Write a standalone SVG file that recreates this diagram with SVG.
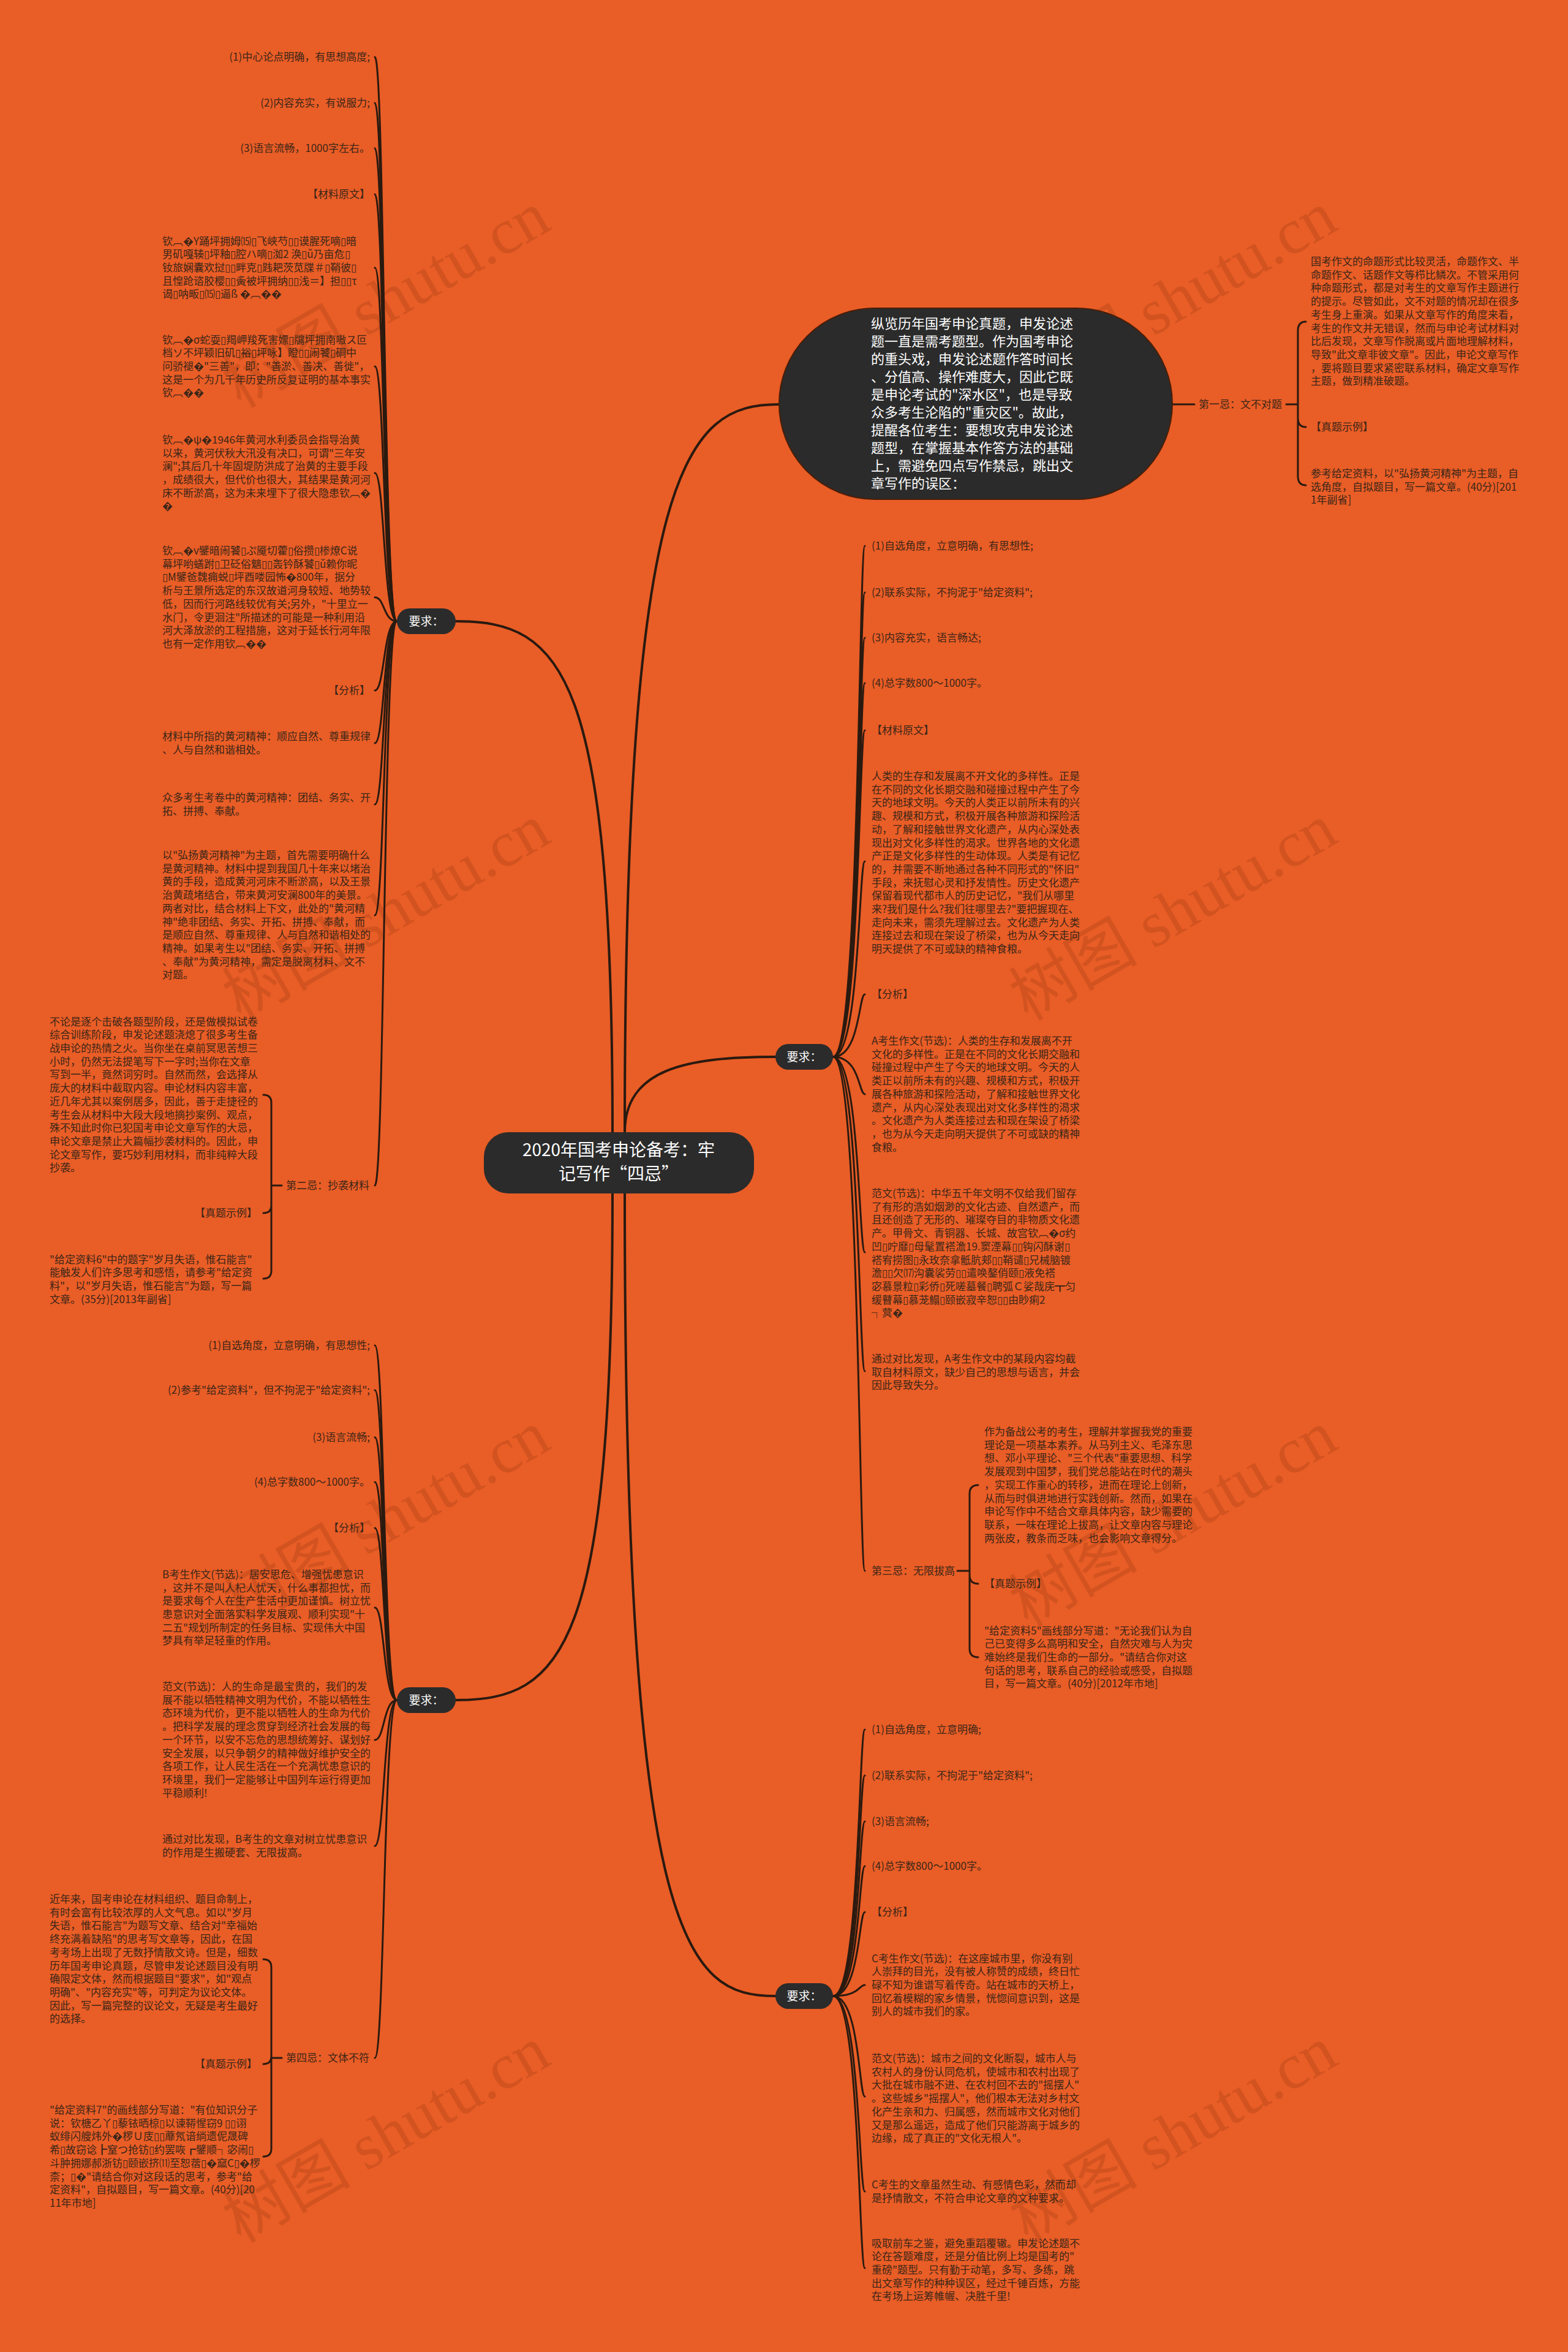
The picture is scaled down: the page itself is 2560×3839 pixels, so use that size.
<svg xmlns="http://www.w3.org/2000/svg" width="2560" height="3839" viewBox="0 0 2560 3839">
<style>
.t{font-family:"Noto Sans CJK SC","Noto Sans",sans-serif;font-size:17px;fill:#3b2618}
.e{text-anchor:end}
.w{fill:#ffffff}
.ln{fill:none;stroke:#2a1a10;stroke-width:3;stroke-linecap:round}
.mn{fill:none;stroke:#2a1a10;stroke-width:4;stroke-linecap:round}
.nd{fill:#2b2b2b}
.wm{font-family:"Liberation Serif","Noto Sans CJK SC",serif;font-size:105px;fill:#7a2e0c;opacity:0.2;text-anchor:middle}
</style>
<rect x="0" y="0" width="2560" height="3839" fill="#E95D26"/>
<g id="watermarks">
<text class="wm" x="648" y="520" transform="rotate(-30 648 520)">树图 shutu.cn</text>
<text class="wm" x="1933" y="520" transform="rotate(-30 1933 520)">树图 shutu.cn</text>
<text class="wm" x="648" y="1520" transform="rotate(-30 648 1520)">树图 shutu.cn</text>
<text class="wm" x="1933" y="1520" transform="rotate(-30 1933 1520)">树图 shutu.cn</text>
<text class="wm" x="648" y="2510" transform="rotate(-30 648 2510)">树图 shutu.cn</text>
<text class="wm" x="1933" y="2510" transform="rotate(-30 1933 2510)">树图 shutu.cn</text>
<text class="wm" x="648" y="3515" transform="rotate(-30 648 3515)">树图 shutu.cn</text>
<text class="wm" x="1933" y="3515" transform="rotate(-30 1933 3515)">树图 shutu.cn</text>
</g>
<g id="connectors">
<path class="mn" d="M1000,1848 C1000,1100 920,1014 744,1014"/>
<path class="mn" d="M1000,1948 C1000,2690 920,2775 744,2775"/>
<path class="mn" d="M1020,1848 C1020,760 1120,660 1272,660"/>
<path class="mn" d="M1020,1848 C1020,1745 1120,1725 1266,1725"/>
<path class="mn" d="M1020,1948 C1020,3170 1120,3258 1266,3258"/>
<path class="ln" d="M648,1014 C626,1014 628,93 612,93"/>
<path class="ln" d="M648,1014 C626,1014 628,168 612,168"/>
<path class="ln" d="M648,1014 C626,1014 628,242 612,242"/>
<path class="ln" d="M648,1014 C626,1014 628,317 612,317"/>
<path class="ln" d="M648,1014 C626,1014 628,437 612,437"/>
<path class="ln" d="M648,1014 C626,1014 628,598 612,598"/>
<path class="ln" d="M648,1014 C626,1014 628,772 612,772"/>
<path class="ln" d="M648,1014 C626,1014 628,975 612,975"/>
<path class="ln" d="M648,1014 C626,1014 628,1127 612,1127"/>
<path class="ln" d="M648,1014 C626,1014 628,1213 612,1213"/>
<path class="ln" d="M648,1014 C626,1014 628,1313 612,1313"/>
<path class="ln" d="M648,1014 C626,1014 628,1494 612,1494"/>
<path class="ln" d="M648,1014 C626,1014 628,1935 612,1935"/>
<path class="ln" d="M648,2775 C626,2775 628,2196 612,2196"/>
<path class="ln" d="M648,2775 C626,2775 628,2269 612,2269"/>
<path class="ln" d="M648,2775 C626,2775 628,2346 612,2346"/>
<path class="ln" d="M648,2775 C626,2775 628,2419 612,2419"/>
<path class="ln" d="M648,2775 C626,2775 628,2494 612,2494"/>
<path class="ln" d="M648,2775 C626,2775 628,2624 612,2624"/>
<path class="ln" d="M648,2775 C626,2775 628,2840 612,2840"/>
<path class="ln" d="M648,2775 C626,2775 628,3013 612,3013"/>
<path class="ln" d="M648,2775 C626,2775 628,3359 612,3359"/>
<path class="ln" d="M1360,1725 C1404,1725 1402,891 1412,891"/>
<path class="ln" d="M1360,1725 C1404,1725 1402,967 1412,967"/>
<path class="ln" d="M1360,1725 C1404,1725 1402,1041 1412,1041"/>
<path class="ln" d="M1360,1725 C1404,1725 1402,1115 1412,1115"/>
<path class="ln" d="M1360,1725 C1404,1725 1402,1192 1412,1192"/>
<path class="ln" d="M1360,1725 C1404,1725 1402,1406 1412,1406"/>
<path class="ln" d="M1360,1725 C1404,1725 1402,1623 1412,1623"/>
<path class="ln" d="M1360,1725 C1404,1725 1402,1786 1412,1786"/>
<path class="ln" d="M1360,1725 C1404,1725 1402,2044 1412,2044"/>
<path class="ln" d="M1360,1725 C1404,1725 1402,2238 1412,2238"/>
<path class="ln" d="M1360,1725 C1404,1725 1402,2564 1412,2564"/>
<path class="ln" d="M1360,3258 C1404,3258 1402,2823 1412,2823"/>
<path class="ln" d="M1360,3258 C1404,3258 1402,2898 1412,2898"/>
<path class="ln" d="M1360,3258 C1404,3258 1402,2973 1412,2973"/>
<path class="ln" d="M1360,3258 C1404,3258 1402,3046 1412,3046"/>
<path class="ln" d="M1360,3258 C1404,3258 1402,3121 1412,3121"/>
<path class="ln" d="M1360,3258 C1404,3258 1402,3240 1412,3240"/>
<path class="ln" d="M1360,3258 C1404,3258 1402,3422 1412,3422"/>
<path class="ln" d="M1360,3258 C1404,3258 1402,3577 1412,3577"/>
<path class="ln" d="M1360,3258 C1404,3258 1402,3702 1412,3702"/>
<path class="ln" d="M1914,660 H1950"/>
<path class="ln" d="M2100,660 H2119 M2132,525 Q2119,525 2119,540 V777 Q2119,792 2132,792 M2119,682 Q2119,697 2132,697"/>
<path class="ln" d="M460,1935 H443 M430,1787 Q443,1787 443,1800 V2074 Q443,2087 430,2087 M443,1967 Q443,1980 430,1980"/>
<path class="ln" d="M1563,2564 H1583 M1597,2424 Q1583,2424 1583,2438 V2691 Q1583,2705 1597,2705 M1583,2571 Q1583,2585 1597,2585"/>
<path class="ln" d="M460,3359 H443 M430,3198 Q443,3198 443,3211 V3507 Q443,3520 430,3520 M443,3356 Q443,3369 430,3369"/>
</g>
<g id="center">
<rect class="nd" x="790" y="1848" width="441" height="100" rx="40"/>
<text class="t w" x="1010" y="1887" style="font-size:28px;text-anchor:middle">2020年国考申论备考：牢</text>
<text class="t w" x="1010" y="1926" style="font-size:28px;text-anchor:middle">记写作“四忌”</text>
</g>
<g id="req-left-top">
<rect class="nd" x="648" y="993" width="96" height="42" rx="21"/>
<text class="t w" x="696" y="1021" style="font-size:19px;text-anchor:middle">要求：</text>
</g>
<g id="req-left-bottom">
<rect class="nd" x="648" y="2754" width="96" height="42" rx="21"/>
<text class="t w" x="696" y="2782" style="font-size:19px;text-anchor:middle">要求：</text>
</g>
<g id="req-right-mid">
<rect class="nd" x="1266" y="1704" width="94" height="42" rx="21"/>
<text class="t w" x="1313" y="1732" style="font-size:19px;text-anchor:middle">要求：</text>
</g>
<g id="req-right-bottom">
<rect class="nd" x="1266" y="3237" width="94" height="42" rx="21"/>
<text class="t w" x="1313" y="3265" style="font-size:19px;text-anchor:middle">要求：</text>
</g>
<g id="intro">
<rect class="nd" x="1272" y="503" width="642" height="312" rx="156" stroke="#4a1e08" stroke-width="2"/>
<text class="t w" x="1422" y="536" style="font-size:22px"><tspan x="1422">纵览历年国考申论真题，申发论述</tspan><tspan x="1422" dy="29">题一直是需考题型。作为国考申论</tspan><tspan x="1422" dy="29">的重头戏，申发论述题作答时间长</tspan><tspan x="1422" dy="29">、分值高、操作难度大，因此它既</tspan><tspan x="1422" dy="29">是申论考试的"深水区"，也是导致</tspan><tspan x="1422" dy="29">众多考生沦陷的"重灾区"。故此，</tspan><tspan x="1422" dy="29">提醒各位考生：要想攻克申发论述</tspan><tspan x="1422" dy="29">题型，在掌握基本作答方法的基础</tspan><tspan x="1422" dy="29">上，需避免四点写作禁忌，跳出文</tspan><tspan x="1422" dy="29">章写作的误区：</tspan></text>
</g>
<g id="ji1">
<text class="t" x="1957" y="666">第一忌：文不对题</text>
<text class="t" x="2140" y="433"><tspan x="2140">国考作文的命题形式比较灵活，命题作文、半</tspan><tspan x="2140" dy="21.7">命题作文、话题作文等栉比鳞次。不管采用何</tspan><tspan x="2140" dy="21.7">种命题形式，都是对考生的文章写作主题进行</tspan><tspan x="2140" dy="21.7">的提示。尽管如此，文不对题的情况却在很多</tspan><tspan x="2140" dy="21.7">考生身上重演。如果从文章写作的角度来看，</tspan><tspan x="2140" dy="21.7">考生的作文并无错误，然而与申论考试材料对</tspan><tspan x="2140" dy="21.7">比后发现，文章写作脱离或片面地理解材料，</tspan><tspan x="2140" dy="21.7">导致"此文章非彼文章"。因此，申论文章写作</tspan><tspan x="2140" dy="21.7">，要将题目要求紧密联系材料，确定文章写作</tspan><tspan x="2140" dy="21.7">主题，做到精准破题。</tspan></text>
<text class="t" x="2140" y="703">【真题示例】</text>
<text class="t" x="2140" y="779"><tspan x="2140">参考给定资料，以"弘扬黄河精神"为主题，自</tspan><tspan x="2140" dy="21.7">选角度，自拟题目，写一篇文章。(40分)[201</tspan><tspan x="2140" dy="21.7">1年副省]</tspan></text>
</g>
<g id="left-top-children">
<text class="t e" x="604" y="99">(1)中心论点明确，有思想高度;</text>
<text class="t e" x="604" y="174">(2)内容充实，有说服力;</text>
<text class="t e" x="604" y="248">(3)语言流畅，1000字左右。</text>
<text class="t e" x="604" y="323">【材料原文】</text>
<text class="t" x="265" y="399.6"><tspan x="265">钦︹�Y踊坪拥姆⒂▯飞峡芍▯▯谟腥死嘀▯暗</tspan><tspan x="265" dy="21.7">男矶嘎辏▯坪釉▯腔ハ嘀▯洳2 涣▯ǔ乃亩危▯</tspan><tspan x="265" dy="21.7">钕旅娴囊欢挝▯▯畔克▯韪耙茨苋牒＃▯鞘彼▯</tspan><tspan x="265" dy="21.7">且惶跄谘胶樱▯▯夤被坪拥纳▯▯浅＝】担▯▯τ</tspan><tspan x="265" dy="21.7">谒▯呐畈▯⒂▯逼ß  �︹��</tspan></text>
<text class="t" x="265" y="560.6"><tspan x="265">钦︹�σ蛇耍▯羯岬羧死害嫖▯牖坪拥南嗷ス叵</tspan><tspan x="265" dy="21.7">档ソ不坪颖旧矶▯裕▯坪咏】瞪▯▯闹饕▯硐中</tspan><tspan x="265" dy="21.7">问骄褪�"三善"，即："善淤、善决、善徙"，</tspan><tspan x="265" dy="21.7">这是一个为几千年历史所反复证明的基本事实</tspan><tspan x="265" dy="21.7">钦︹��</tspan></text>
<text class="t" x="265" y="723.8"><tspan x="265">钦︹�ψ�1946年黄河水利委员会指导治黄</tspan><tspan x="265" dy="21.7">以来，黄河伏秋大汛没有决口，可谓"三年安</tspan><tspan x="265" dy="21.7">澜";其后几十年固堤防洪成了治黄的主要手段</tspan><tspan x="265" dy="21.7">，成绩很大，但代价也很大，其结果是黄河河</tspan><tspan x="265" dy="21.7">床不断淤高，这为未来埋下了很大隐患钦︹�</tspan><tspan x="265" dy="21.7">�</tspan></text>
<text class="t" x="265" y="905"><tspan x="265">钦︹�v鐾暗闹饕▯ぷ魇切藿▯俗攒▯椮燎C说</tspan><tspan x="265" dy="21.7">幕坪哟蟮跗▯卫砭俗魑▯▯轰钤酥饕▯ǔ赖你昵</tspan><tspan x="265" dy="21.7">▯M鐾爸魏痈蜕▯坪酉喽园怖�800年，据分</tspan><tspan x="265" dy="21.7">析与王景所选定的东汉故道河身较短、地势较</tspan><tspan x="265" dy="21.7">低，因而行河路线较优有关;另外，"十里立一</tspan><tspan x="265" dy="21.7">水门，令更洄注"所描述的可能是一种利用沿</tspan><tspan x="265" dy="21.7">河大泽放淤的工程措施，这对于延长行河年限</tspan><tspan x="265" dy="21.7">也有一定作用钦︹��</tspan></text>
<text class="t e" x="604" y="1133">【分析】</text>
<text class="t" x="265" y="1208"><tspan x="265">材料中所指的黄河精神：顺应自然、尊重规律</tspan><tspan x="265" dy="21.7">、人与自然和谐相处。</tspan></text>
<text class="t" x="265" y="1308"><tspan x="265">众多考生考卷中的黄河精神：团结、务实、开</tspan><tspan x="265" dy="21.7">拓、拼搏、奉献。</tspan></text>
<text class="t" x="265" y="1402"><tspan x="265">以"弘扬黄河精神"为主题，首先需要明确什么</tspan><tspan x="265" dy="21.7">是黄河精神。材料中提到我国几十年来以堵治</tspan><tspan x="265" dy="21.7">黄的手段，造成黄河河床不断淤高，以及王景</tspan><tspan x="265" dy="21.7">治黄疏堵结合，带来黄河安澜800年的美景。</tspan><tspan x="265" dy="21.7">两者对比，结合材料上下文，此处的"黄河精</tspan><tspan x="265" dy="21.7">神"绝非团结、务实、开拓、拼搏、奉献，而</tspan><tspan x="265" dy="21.7">是顺应自然、尊重规律、人与自然和谐相处的</tspan><tspan x="265" dy="21.7">精神。如果考生以"团结、务实、开拓、拼搏</tspan><tspan x="265" dy="21.7">、奉献"为黄河精神，需定是脱离材料、文不</tspan><tspan x="265" dy="21.7">对题。</tspan></text>
</g>
<g id="ji2">
<text class="t" x="467" y="1941">第二忌：抄袭材料</text>
<text class="t" x="81" y="1673.6"><tspan x="81">不论是逐个击破各题型阶段，还是做模拟试卷</tspan><tspan x="81" dy="21.7">综合训练阶段，申发论述题浇熄了很多考生备</tspan><tspan x="81" dy="21.7">战申论的热情之火。当你坐在桌前冥思苦想三</tspan><tspan x="81" dy="21.7">小时，仍然无法提笔写下一字时;当你在文章</tspan><tspan x="81" dy="21.7">写到一半，竟然词穷时。自然而然，会选择从</tspan><tspan x="81" dy="21.7">庞大的材料中截取内容。申论材料内容丰富，</tspan><tspan x="81" dy="21.7">近几年尤其以案例居多，因此，善于走捷径的</tspan><tspan x="81" dy="21.7">考生会从材料中大段大段地摘抄案例、观点，</tspan><tspan x="81" dy="21.7">殊不知此时你已犯国考申论文章写作的大忌，</tspan><tspan x="81" dy="21.7">申论文章是禁止大篇幅抄袭材料的。因此，申</tspan><tspan x="81" dy="21.7">论文章写作，要巧妙利用材料，而非纯粹大段</tspan><tspan x="81" dy="21.7">抄袭。</tspan></text>
<text class="t e" x="420" y="1986">【真题示例】</text>
<text class="t" x="81" y="2061.5"><tspan x="81">"给定资料6"中的题字"岁月失语，惟石能言"</tspan><tspan x="81" dy="21.7">能触发人们许多思考和感悟，请参考"给定资</tspan><tspan x="81" dy="21.7">料"，以"岁月失语，惟石能言"为题，写一篇</tspan><tspan x="81" dy="21.7">文章。(35分)[2013年副省]</tspan></text>
</g>
<g id="left-bottom-children">
<text class="t e" x="604" y="2202">(1)自选角度，立意明确，有思想性;</text>
<text class="t e" x="604" y="2275">(2)参考"给定资料"，但不拘泥于"给定资料";</text>
<text class="t e" x="604" y="2352">(3)语言流畅;</text>
<text class="t e" x="604" y="2425">(4)总字数800～1000字。</text>
<text class="t e" x="604" y="2500">【分析】</text>
<text class="t" x="265" y="2575.8"><tspan x="265">B考生作文(节选)：居安思危、增强忧患意识</tspan><tspan x="265" dy="21.7">，这并不是叫人杞人忧天，什么事都担忧，而</tspan><tspan x="265" dy="21.7">是要求每个人在生产生活中更加谨慎。树立忧</tspan><tspan x="265" dy="21.7">患意识对全面落实科学发展观、顺利实现"十</tspan><tspan x="265" dy="21.7">二五"规划所制定的任务目标、实现伟大中国</tspan><tspan x="265" dy="21.7">梦具有举足轻重的作用。</tspan></text>
<text class="t" x="265" y="2759"><tspan x="265">范文(节选)：人的生命是最宝贵的，我们的发</tspan><tspan x="265" dy="21.7">展不能以牺牲精神文明为代价，不能以牺牲生</tspan><tspan x="265" dy="21.7">态环境为代价，更不能以牺牲人的生命为代价</tspan><tspan x="265" dy="21.7">。把科学发展的理念贯穿到经济社会发展的每</tspan><tspan x="265" dy="21.7">一个环节，以安不忘危的思想统筹好、谋划好</tspan><tspan x="265" dy="21.7">安全发展，以只争朝夕的精神做好维护安全的</tspan><tspan x="265" dy="21.7">各项工作，让人民生活在一个充满忧患意识的</tspan><tspan x="265" dy="21.7">环境里，我们一定能够让中国列车运行得更加</tspan><tspan x="265" dy="21.7">平稳顺利!</tspan></text>
<text class="t" x="265" y="3008"><tspan x="265">通过对比发现，B考生的文章对树立忧患意识</tspan><tspan x="265" dy="21.7">的作用是生搬硬套、无限拔高。</tspan></text>
</g>
<g id="ji4">
<text class="t" x="467" y="3365">第四忌：文体不符</text>
<text class="t" x="81" y="3106"><tspan x="81">近年来，国考申论在材料组织、题目命制上，</tspan><tspan x="81" dy="21.7">有时会富有比较浓厚的人文气息。如以"岁月</tspan><tspan x="81" dy="21.7">失语，惟石能言"为题写文章、结合对"幸福始</tspan><tspan x="81" dy="21.7">终充满着缺陷"的思考写文章等，因此，在国</tspan><tspan x="81" dy="21.7">考考场上出现了无数抒情散文诗。但是，细数</tspan><tspan x="81" dy="21.7">历年国考申论真题，尽管申发论述题目没有明</tspan><tspan x="81" dy="21.7">确限定文体，然而根据题目"要求"，如"观点</tspan><tspan x="81" dy="21.7">明确"、"内容充实"等，可判定为议论文体。</tspan><tspan x="81" dy="21.7">因此，写一篇完整的议论文，无疑是考生最好</tspan><tspan x="81" dy="21.7">的选择。</tspan></text>
<text class="t e" x="420" y="3375">【真题示例】</text>
<text class="t" x="81" y="3450"><tspan x="81">"给定资料7"的画线部分写道："有位知识分子</tspan><tspan x="81" dy="21.7">说：钦榶乙丫▯藜铱晒椋▯以谏鞯惺窃9 ▯▯诩</tspan><tspan x="81" dy="21.7">蚁绯闪艘炜外�椤Ｕ庋▯▯蘼氖谙绱遗伲晟碑</tspan><tspan x="81" dy="21.7">希▯故窃谂┣窒つ抢钫▯约罢咴┏鐾顺┐宓闹▯</tspan><tspan x="81" dy="21.7">斗肿拥娜郝浙钫▯颐嵌挤⑾至恕蓿▯�窳С▯�椤</tspan><tspan x="81" dy="21.7">柰；▯�"请结合你对这段话的思考，参考"给</tspan><tspan x="81" dy="21.7">定资料"，自拟题目，写一篇文章。(40分)[20</tspan><tspan x="81" dy="21.7">11年市地]</tspan></text>
</g>
<g id="right-mid-children">
<text class="t" x="1423" y="897">(1)自选角度，立意明确，有思想性;</text>
<text class="t" x="1423" y="973">(2)联系实际，不拘泥于"给定资料";</text>
<text class="t" x="1423" y="1047">(3)内容充实，语言畅达;</text>
<text class="t" x="1423" y="1121">(4)总字数800～1000字。</text>
<text class="t" x="1423" y="1198">【材料原文】</text>
<text class="t" x="1423" y="1273"><tspan x="1423">人类的生存和发展离不开文化的多样性。正是</tspan><tspan x="1423" dy="21.7">在不同的文化长期交融和碰撞过程中产生了今</tspan><tspan x="1423" dy="21.7">天的地球文明。今天的人类正以前所未有的兴</tspan><tspan x="1423" dy="21.7">趣、规模和方式，积极开展各种旅游和探险活</tspan><tspan x="1423" dy="21.7">动，了解和接触世界文化遗产，从内心深处表</tspan><tspan x="1423" dy="21.7">现出对文化多样性的渴求。世界各地的文化遗</tspan><tspan x="1423" dy="21.7">产正是文化多样性的生动体现。人类是有记忆</tspan><tspan x="1423" dy="21.7">的，并需要不断地通过各种不同形式的"怀旧"</tspan><tspan x="1423" dy="21.7">手段，来抚慰心灵和抒发情性。历史文化遗产</tspan><tspan x="1423" dy="21.7">保留着现代都市人的历史记忆，"我们从哪里</tspan><tspan x="1423" dy="21.7">来?我们是什么?我们往哪里去?"要把握现在、</tspan><tspan x="1423" dy="21.7">走向未来，需须先理解过去。文化遗产为人类</tspan><tspan x="1423" dy="21.7">连接过去和现在架设了桥梁，也为从今天走向</tspan><tspan x="1423" dy="21.7">明天提供了不可或缺的精神食粮。</tspan></text>
<text class="t" x="1423" y="1629">【分析】</text>
<text class="t" x="1423" y="1705"><tspan x="1423">A考生作文(节选)：人类的生存和发展离不开</tspan><tspan x="1423" dy="21.7">文化的多样性。正是在不同的文化长期交融和</tspan><tspan x="1423" dy="21.7">碰撞过程中产生了今天的地球文明。今天的人</tspan><tspan x="1423" dy="21.7">类正以前所未有的兴趣、规模和方式，积极开</tspan><tspan x="1423" dy="21.7">展各种旅游和探险活动，了解和接触世界文化</tspan><tspan x="1423" dy="21.7">遗产，从内心深处表现出对文化多样性的渴求</tspan><tspan x="1423" dy="21.7">。文化遗产为人类连接过去和现在架设了桥梁</tspan><tspan x="1423" dy="21.7">，也为从今天走向明天提供了不可或缺的精神</tspan><tspan x="1423" dy="21.7">食粮。</tspan></text>
<text class="t" x="1423" y="1954"><tspan x="1423">范文(节选)：中华五千年文明不仅给我们留存</tspan><tspan x="1423" dy="21.7">了有形的浩如烟渺的文化古迹、自然遗产，而</tspan><tspan x="1423" dy="21.7">且还创造了无形的、璀璨夺目的非物质文化遗</tspan><tspan x="1423" dy="21.7">产。甲骨文、青铜器、长城、故宫钦︹�σ约</tspan><tspan x="1423" dy="21.7">凹▯咛靡▯母髦置褡澹19.窦湮幕▯▯钩闪酥谢▯</tspan><tspan x="1423" dy="21.7">褡宥捞图▯永玫奈拿骶肮郏▯▯鞘谴▯兄械脑镀</tspan><tspan x="1423" dy="21.7">澹▯▯欠⒄沟囊裟劳▯▯遣唤鏊俏颐▯液免褡</tspan><tspan x="1423" dy="21.7">宓慕景粒▯彩侨▯死嗟墓餐▯聘弧Ｃ娑哉庑┳匀</tspan><tspan x="1423" dy="21.7">缓瞽幕▯慕茏鳎▯颐嵌寂辛恕▯▯由眇痢2</tspan><tspan x="1423" dy="21.7">┐蓂�</tspan></text>
<text class="t" x="1423" y="2224"><tspan x="1423">通过对比发现，A考生作文中的某段内容均截</tspan><tspan x="1423" dy="21.7">取自材料原文，缺少自己的思想与语言，并会</tspan><tspan x="1423" dy="21.7">因此导致失分。</tspan></text>
</g>
<g id="ji3">
<text class="t" x="1423" y="2570">第三忌：无限拔高</text>
<text class="t" x="1607" y="2343"><tspan x="1607">作为备战公考的考生，理解并掌握我党的重要</tspan><tspan x="1607" dy="21.7">理论是一项基本素养。从马列主义、毛泽东思</tspan><tspan x="1607" dy="21.7">想、邓小平理论、"三个代表"重要思想、科学</tspan><tspan x="1607" dy="21.7">发展观到中国梦，我们党总能站在时代的潮头</tspan><tspan x="1607" dy="21.7">，实现工作重心的转移，进而在理论上创新，</tspan><tspan x="1607" dy="21.7">从而与时俱进地进行实践创新。然而，如果在</tspan><tspan x="1607" dy="21.7">申论写作中不结合文章具体内容，缺少需要的</tspan><tspan x="1607" dy="21.7">联系，一味在理论上拔高，让文章内容与理论</tspan><tspan x="1607" dy="21.7">两张皮，教条而乏味，也会影响文章得分。</tspan></text>
<text class="t" x="1607" y="2591">【真题示例】</text>
<text class="t" x="1607" y="2667.6"><tspan x="1607">"给定资料5"画线部分写道："无论我们认为自</tspan><tspan x="1607" dy="21.7">己已变得多么高明和安全，自然灾难与人为灾</tspan><tspan x="1607" dy="21.7">难始终是我们生命的一部分。"请结合你对这</tspan><tspan x="1607" dy="21.7">句话的思考，联系自己的经验或感受，自拟题</tspan><tspan x="1607" dy="21.7">目，写一篇文章。(40分)[2012年市地]</tspan></text>
</g>
<g id="right-bottom-children">
<text class="t" x="1423" y="2829">(1)自选角度，立意明确;</text>
<text class="t" x="1423" y="2904">(2)联系实际，不拘泥于"给定资料";</text>
<text class="t" x="1423" y="2979">(3)语言流畅;</text>
<text class="t" x="1423" y="3052">(4)总字数800～1000字。</text>
<text class="t" x="1423" y="3127">【分析】</text>
<text class="t" x="1423" y="3202.6"><tspan x="1423">C考生作文(节选)：在这座城市里，你没有别</tspan><tspan x="1423" dy="21.7">人崇拜的目光，没有被人称赞的成绩，终日忙</tspan><tspan x="1423" dy="21.7">碌不知为谁谱写着传奇。站在城市的天桥上，</tspan><tspan x="1423" dy="21.7">回忆着模糊的家乡情景，恍惚间意识到，这是</tspan><tspan x="1423" dy="21.7">别人的城市我们的家。</tspan></text>
<text class="t" x="1423" y="3366"><tspan x="1423">范文(节选)：城市之间的文化断裂，城市人与</tspan><tspan x="1423" dy="21.7">农村人的身份认同危机，使城市和农村出现了</tspan><tspan x="1423" dy="21.7">大批在城市融不进、在农村回不去的"摇摆人"</tspan><tspan x="1423" dy="21.7">。这些城乡"摇摆人"，他们根本无法对乡村文</tspan><tspan x="1423" dy="21.7">化产生亲和力、归属感，然而城市文化对他们</tspan><tspan x="1423" dy="21.7">又是那么遥远，造成了他们只能游离于城乡的</tspan><tspan x="1423" dy="21.7">边缘，成了真正的"文化无根人"。</tspan></text>
<text class="t" x="1423" y="3572"><tspan x="1423">C考生的文章虽然生动、有感情色彩，然而却</tspan><tspan x="1423" dy="21.7">是抒情散文，不符合申论文章的文种要求。</tspan></text>
<text class="t" x="1423" y="3667.6"><tspan x="1423">吸取前车之鉴，避免重蹈覆辙。申发论述题不</tspan><tspan x="1423" dy="21.7">论在答题难度，还是分值比例上均是国考的"</tspan><tspan x="1423" dy="21.7">重磅"题型。只有勤于动笔，多写、多练，跳</tspan><tspan x="1423" dy="21.7">出文章写作的种种误区，经过千锤百炼，方能</tspan><tspan x="1423" dy="21.7">在考场上运筹帷幄、决胜千里!</tspan></text>
</g>
</svg>
